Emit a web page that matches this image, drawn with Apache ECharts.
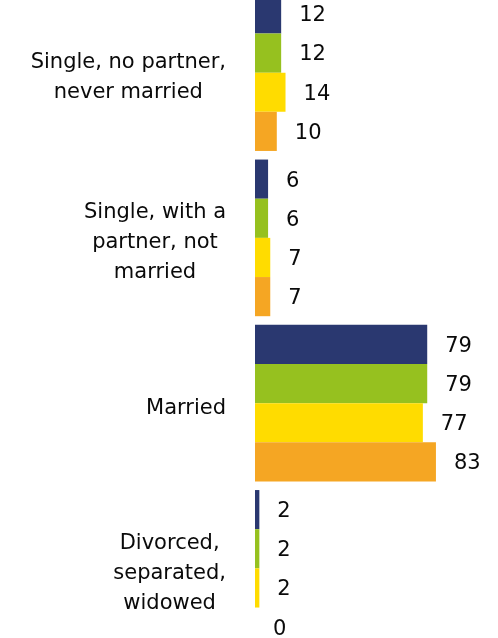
<!DOCTYPE html>
<html>
<head>
<meta charset="utf-8">
<script src="https://cdn.jsdelivr.net/npm/echarts@6/dist/echarts.min.js"></script>
<style>
html,body{margin:0;padding:0;background:#fff;}
#chart{width:498px;height:638px;}
</style>
</head>
<body>
<div id="chart"></div>
<script>
const categories = [
  "Single, no partner,\nnever married",
  "Single, with a\npartner, not\nmarried",
  "Married",
  "Divorced,\nseparated,\nwidowed"
];
const seriesNames = ["Series 1", "Series 2", "Series 3", "Series 4"];
const seriesColors = ["#2A3870", "#96C11F", "#FFDC00", "#F5A623"];
const series1 = [12, 6, 79, 2];
const series2 = [12, 6, 79, 2];
const series3 = [14, 7, 77, 2];
const series4 = [10, 7, 83, 0];
const allValues = [series1, series2, series3, series4];

const chart = echarts.init(document.getElementById('chart'), null, {renderer: 'canvas'});
const FONT = 'DejaVu Sans';
chart.setOption({
  animation: false,
  backgroundColor: '#ffffff',
  grid: {left: 255, width: 218, top: -10, height: 661, containLabel: false, outerBoundsMode: 'none'},
  xAxis: {
    type: 'value', min: 0, max: 100, show: false
  },
  yAxis: {
    type: 'category', data: categories, inverse: true,
    axisLine: {show: false}, axisTick: {show: false}, splitLine: {show: false},
    axisLabel: {
      margin: 29,
      padding: [10, 0, 0, 0],
      formatter: function (v) {
        return v.split('\n').map(function (l) { return '{c|' + l + '}'; }).join('\n');
      },
      rich: {
        c: {align: 'center', fontFamily: FONT, fontSize: 21, lineHeight: 30, color: '#0a0a0a'}
      }
    }
  },
  series: allValues.map(function (vals, i) {
    return {
      type: 'bar', name: seriesNames[i], data: vals,
      barGap: '0%', barCategoryGap: '5.2%',
      itemStyle: {color: seriesColors[i]},
      label: {
        show: true, position: 'right', distance: 18, offset: [0, 2],
        fontFamily: FONT, fontSize: 21, color: '#0a0a0a'
      }
    };
  })
});
</script>
</body>
</html>
